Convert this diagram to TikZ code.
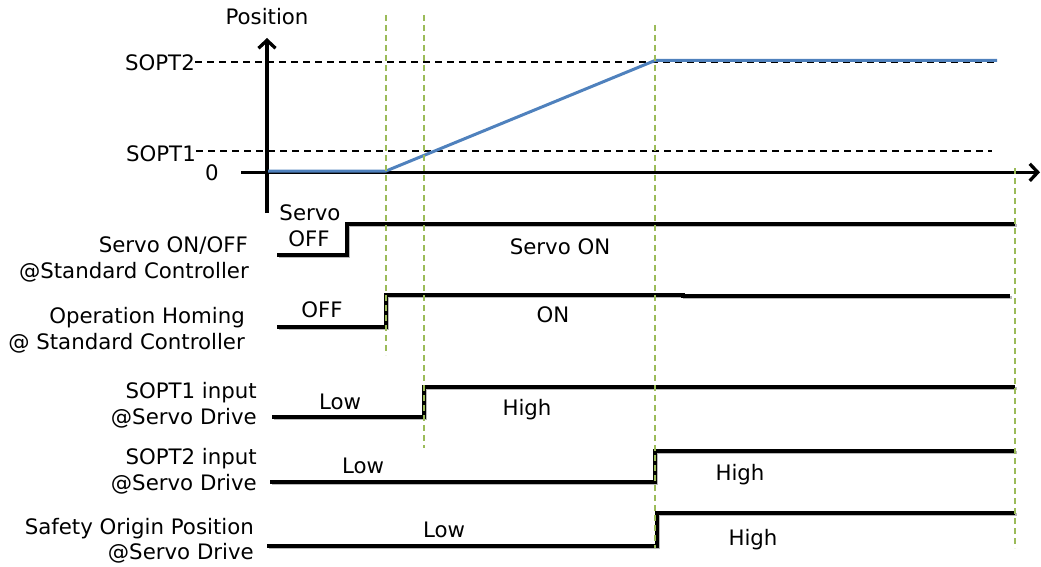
\documentclass[tikz,border=0pt]{standalone}
\usepackage{fontspec}
\setmainfont{DejaVu Sans}
\usetikzlibrary{arrows.meta}
\definecolor{guide}{HTML}{9BBB59}
\definecolor{posblue}{HTML}{4F81BD}
\begin{document}
\begin{tikzpicture}[x=1pt,y=-1pt,
  lbl/.style={font=\fontsize{21.3}{25}\selectfont, inner sep=0pt},
  rowlbl/.style={lbl, anchor=base east},
  vallbl/.style={lbl, anchor=base},
  sig/.style={line width=3.3pt, line join=miter,
    preaction={draw=black!28, line width=3.3pt, transform canvas={shift={(1.5pt,-1.8pt)}}}},
  axis/.style={line width=3.3pt, -{Straight Barb[length=8pt,width=17pt,line width=3.3pt]}},
  level/.style={line width=1.9pt, dash pattern=on 7pt off 5pt},
  guideline/.style={guide, line width=1.5pt, dash pattern=on 6pt off 4pt},
  posline/.style={posblue, line width=3pt, line join=round}
]
\useasboundingbox (0,0) rectangle (1041,567);

% time instants
\coordinate (tA) at (386,0);
\coordinate (tB) at (424,0);
\coordinate (tC) at (655,0);
\coordinate (tD) at (1015,0);

% level reference lines
\node[lbl, anchor=base east] (s2) at (195,71) {SOPT2};
\node[lbl, anchor=base east] (s1) at (196,161) {SOPT1};
\node[lbl, anchor=base] (zero) at (212,180) {0};
\coordinate (s2end) at (997,62);
\coordinate (s1end) at (992,151);
\draw[level] (s2.east |- 0,62) -- (s2end);
\draw[level] (s1.east |- 0,151) -- (s1end);

% axes
\coordinate (yfoot) at (267,213);
\coordinate (ytip) at (267,38);
\coordinate (xfoot) at (241,172.3);
\coordinate (xtip) at (1040,172.3);
\draw[axis] (yfoot) -- (ytip);
\draw[axis] (xfoot) -- (xtip);
\node[vallbl] (poslbl) at (267,25) {Position};

% position curve
\coordinate (p0) at (268,171);
\coordinate (p1) at (386,171);
\coordinate (p2) at (655,60.5);
\coordinate (p3) at (997,60.5);
\draw[posline] (p0) -- (p1) -- (p2) -- (p3);

% Servo ON/OFF
\node[rowlbl] (r1a) at (248,252) {Servo ON/OFF};
\node[rowlbl] (r1b) at (249,278) {@Standard Controller};
\draw[sig] (277,255) -- (347,255) -- (347,224) -- (1015,224);
\node[vallbl] (v1a) at (310,220) {Servo};
\node[vallbl] (v1b) at (309,246) {OFF};
\node[vallbl] (v1c) at (560,254) {Servo ON};

% Operation Homing
\node[rowlbl] (r2a) at (245,323) {Operation Homing};
\node[rowlbl] (r2b) at (245,349) {@ Standard Controller};
\draw[sig] (277,327) -- (386,327) -- (386,295) -- (683,295) -- (683,296) -- (1010,296);
\node[vallbl] (v2a) at (322,317) {OFF};
\node[vallbl] (v2b) at (553,322) {ON};

% SOPT1 input
\node[rowlbl] (r3a) at (257,398) {SOPT1 input};
\node[rowlbl] (r3b) at (257,424) {@Servo Drive};
\draw[sig] (272,417) -- (424,417) -- (424,387) -- (1015,387);
\node[vallbl] (v3a) at (340,409) {Low};
\node[vallbl] (v3b) at (527,415) {High};

% SOPT2 input
\node[rowlbl] (r4a) at (257,464) {SOPT2 input};
\node[rowlbl] (r4b) at (257,490) {@Servo Drive};
\draw[sig] (270,482) -- (655,482) -- (655,451) -- (1015,451);
\node[vallbl] (v4a) at (363,473) {Low};
\node[vallbl] (v4b) at (740,480) {High};

% Safety Origin Position
\node[rowlbl] (r5a) at (254,534) {Safety Origin Position};
\node[rowlbl] (r5b) at (254,559) {@Servo Drive};
\draw[sig] (267,546) -- (657,546) -- (657,513) -- (1015,513);
\node[vallbl] (v5a) at (444,537) {Low};
\node[vallbl] (v5b) at (753,545) {High};

% guide lines
\draw[guideline] (tA |- 0,15) -- (tA |- 0,355);
\draw[guideline] (tB |- 0,15) -- (tB |- 0,448);
\draw[guideline] (tC |- 0,25) -- (tC |- 0,548);
\draw[guideline] (tD |- 0,168) -- (tD |- 0,548);
\end{tikzpicture}
\end{document}
